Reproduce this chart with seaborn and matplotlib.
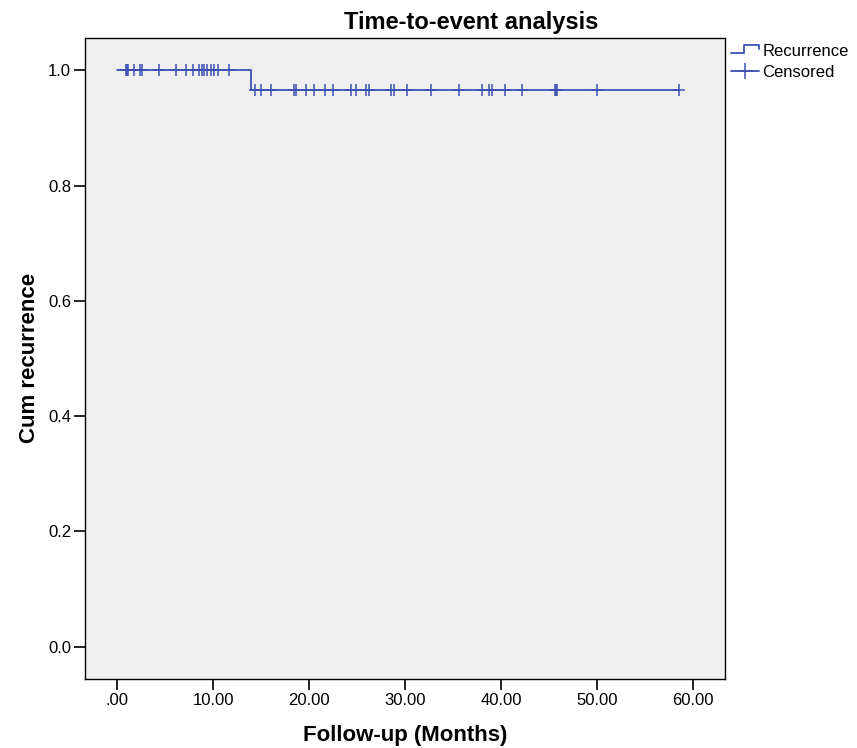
import seaborn as sns
import matplotlib.pyplot as plt
import pandas as pd
import numpy as np
from matplotlib.lines import Line2D
from matplotlib.legend_handler import HandlerBase
from matplotlib.ticker import FuncFormatter

# --- Data (months) ---
event_times = [13.9]
censored_times = [0.9, 1.0, 1.08, 1.74, 2.4, 2.55, 4.38, 6.11, 7.22, 7.92, 8.54,
                  8.82, 9.10, 9.41, 9.76, 10.10, 10.52, 11.67,
                  14.34, 15.03, 16.04, 18.44, 18.61, 19.69, 20.55, 21.67, 22.53,
                  24.34, 24.90, 25.94, 26.25, 28.51, 28.85, 30.17, 32.71, 35.63,
                  38.06, 38.75, 39.10, 40.45, 42.19, 45.6, 45.7, 45.8, 50.03, 58.6]

# --- Kaplan-Meier estimate ---
times = np.array(event_times + censored_times)
events = np.array([1] * len(event_times) + [0] * len(censored_times))
order = np.argsort(times, kind="stable")
times, events = times[order], events[order]

surv = 1.0
step_t, step_s = [0.0], [1.0]
cens_t, cens_s = [], []
n_risk = len(times)
for t, e in zip(times, events):
    if e:
        surv *= 1 - 1 / n_risk
        step_t.append(t)
        step_s.append(surv)
    else:
        cens_t.append(t)
        cens_s.append(surv)
    n_risk -= 1
step_t.append(times.max())
step_s.append(surv)

curve = pd.DataFrame({"time": step_t, "surv": step_s})
cens = pd.DataFrame({"time": cens_t, "surv": cens_s})

blue = "#3d50b2"

sns.set_style("ticks")
plt.rcParams["font.family"] = ["Liberation Sans", "DejaVu Sans"]
plt.rcParams["text.color"] = "black"
plt.rcParams["axes.labelcolor"] = "black"

W, H = 857, 748
fig = plt.figure(figsize=(W / 100, H / 100), dpi=100)
ax = fig.add_axes([85 / W, 1 - 679 / H, 640 / W, (679 - 38) / H])
ax.set_facecolor("#efefef")

sns.lineplot(data=curve, x="time", y="surv", ax=ax, color=blue,
             drawstyle="steps-post", linewidth=1.3, estimator=None, sort=False)
sns.scatterplot(data=cens, x="time", y="surv", ax=ax, color=blue,
                marker="+", s=70, linewidth=1.1, zorder=3)

ax.set_xlim(-3.35, 63.35)
ax.set_ylim(-0.056, 1.056)
ax.set_xticks(np.arange(0, 61, 10))
ax.set_yticks(np.arange(0, 1.01, 0.2))
ax.xaxis.set_major_formatter(FuncFormatter(lambda v, p: f"{v:.2f}".lstrip("0") if v < 1 else f"{v:.2f}"))
ax.yaxis.set_major_formatter(FuncFormatter(lambda v, p: f"{v:.1f}"))
ax.tick_params(direction="out", length=8, width=1.2, labelsize=12, colors="black", pad=2)
for sp in ax.spines.values():
    sp.set_visible(True)
    sp.set_color("black")
    sp.set_linewidth(1.0)
ax.set_xlabel("")
ax.set_ylabel("")

fig.text(471 / W, 1 - 29 / H, "Time-to-event analysis", fontsize=17, fontweight="bold",
         ha="center", va="baseline")
fig.text(405.5 / W, 1 - 741 / H, "Follow-up (Months)", fontsize=16, fontweight="bold",
         ha="center", va="baseline")
fig.text(30 / W, 1 - 358 / H, "Cum recurrence", fontsize=16, fontweight="bold",
         ha="center", va="center", rotation=90)


class StepHandler(HandlerBase):
    def create_artists(self, legend, orig_handle, xdescent, ydescent,
                       width, height, fontsize, trans):
        x0, x1 = -xdescent, -xdescent + width
        xm = x0 + width * 0.45
        yl, yh = -ydescent + height * 0.2, -ydescent + height * 0.95
        ln = Line2D([x0, xm, xm, x1, x1], [yl, yl, yh, yh, yh - height * 0.35],
                    color=blue, linewidth=1.3, transform=trans)
        return [ln]


handles = [Line2D([], [], color=blue),
           Line2D([], [], color=blue, marker="+", markersize=12, markeredgewidth=1.1, linewidth=1.3)]
ax.legend(handles, ["Recurrence", "Censored"], loc="upper left",
          bbox_to_anchor=(1.0, 1.0), frameon=False, fontsize=12,
          handlelength=1.7, handletextpad=0.2, labelspacing=0.35, borderaxespad=0.1,
          borderpad=0.25, handler_map={handles[0]: StepHandler()})

fig.savefig("out.png", dpi=100)
